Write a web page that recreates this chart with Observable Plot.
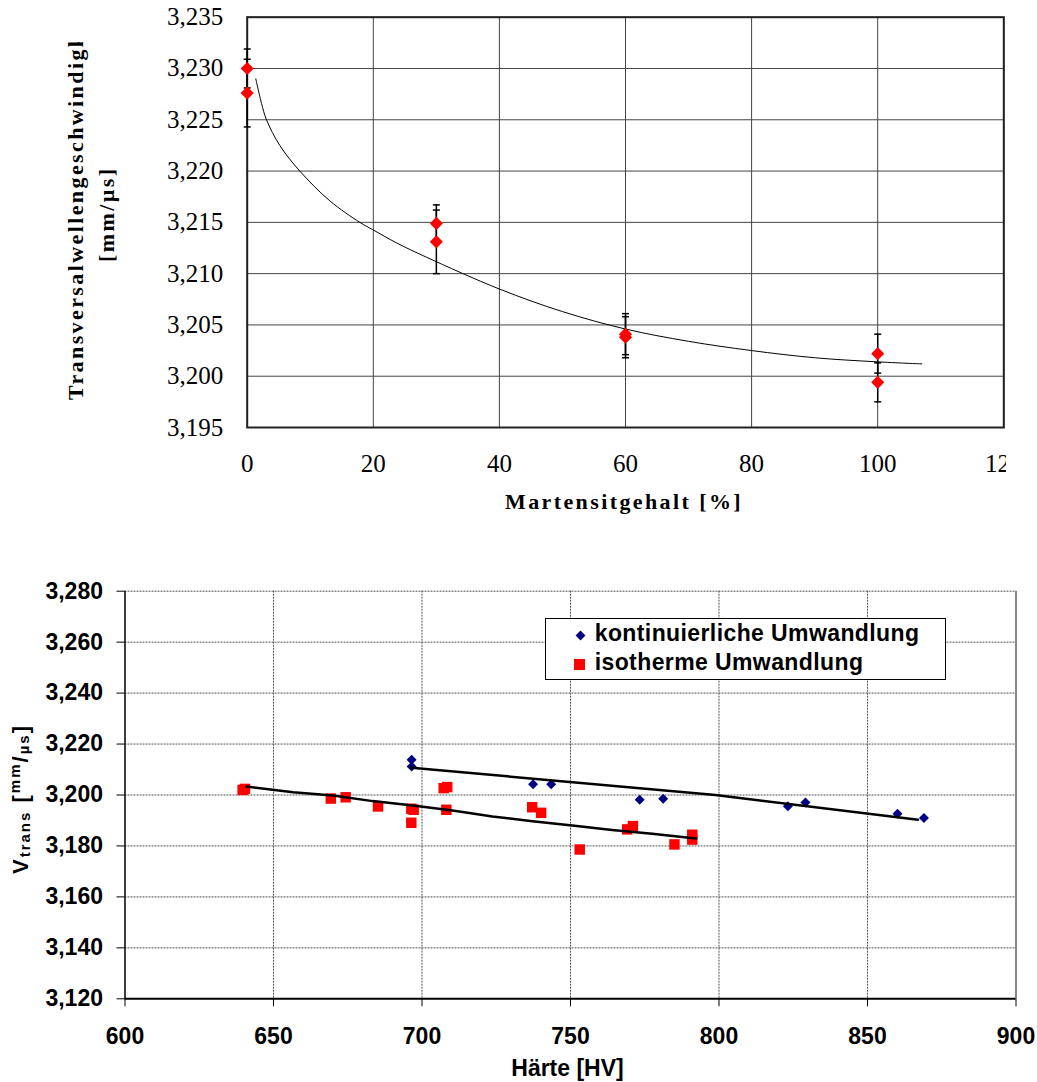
<!DOCTYPE html>
<html><head><meta charset="utf-8">
<script src="https://cdn.jsdelivr.net/npm/d3@7"></script>
<script src="https://cdn.jsdelivr.net/npm/@observablehq/plot@0.6"></script>
<style>
body{margin:0;background:#fff;}
#root{position:relative;width:1037px;height:1082px;overflow:hidden;background:#fff;}
.abs{position:absolute;white-space:nowrap;line-height:1;}
.serif{font-family:"Liberation Serif","Times New Roman",serif;font-weight:bold;font-size:22px;letter-spacing:2.4px;color:#000;}
.sans{font-family:"Liberation Sans",Arial,sans-serif;font-weight:bold;color:#000;}
.rot{transform-origin:0 0;transform:rotate(-90deg);}
</style></head>
<body><div id="root">
<div id="top" class="abs" style="left:0;top:0;width:1006px"></div>
<div id="bottom" class="abs" style="left:0;top:540px;width:1037px"></div>

<div class="abs serif" style="left:0;top:491px;width:1248px;text-align:center">Martensitgehalt [%]</div>
<div class="abs" style="left:0;top:42px;width:200px;height:400px;overflow:hidden">
  <div class="abs serif rot" style="left:64.6px;top:358px">Transversalwellengeschwindigkeit</div>
</div>
<div class="abs serif rot" style="left:96.2px;top:262px">[mm/µs]</div>

<div class="abs sans rot" style="left:9.7px;top:874px;font-size:22px;letter-spacing:2px">V<span style="font-size:15px;position:relative;top:2px">trans</span> [<span style="font-size:15px;position:relative;top:-8px">mm</span>/<span style="font-size:15px;position:relative;top:1px">µs</span>]</div>
<div class="abs sans" style="left:0;top:1056.5px;width:1135px;text-align:center;font-size:23px">Härte [HV]</div>

<div class="abs" style="left:545px;top:618px;width:401px;height:62px;border:1.5px solid #000;background:#fff;box-sizing:border-box"></div>
<div class="abs" style="left:576.5px;top:631.5px;width:7px;height:7px;background:#000080;transform:rotate(45deg)"></div>
<div class="abs" style="left:574px;top:658.5px;width:11px;height:11px;background:#ff0000"></div>
<div class="abs sans" style="left:594.7px;top:622.2px;font-size:23px;letter-spacing:0.4px">kontinuierliche Umwandlung</div>
<div class="abs sans" style="left:594.7px;top:650.5px;font-size:23px;letter-spacing:0.4px">isotherme Umwandlung</div>
</div>
<script>
// ---- Top chart data ----
const xTicksTop = [0, 20, 40, 60, 80, 100, 120];
const yTicksTop = [3.195, 3.200, 3.205, 3.210, 3.215, 3.220, 3.225, 3.230, 3.235];
const martensit = [0, 0, 30, 30, 60, 60, 100, 100];
const vTop = [3.2300, 3.2276, 3.2149, 3.2131, 3.2041, 3.2038, 3.2022, 3.1994];
const errTop = [0.0019, 0.0033, 0.0018, 0.0031, 0.0020, 0.0020, 0.0019, 0.0019];
const fitX = [1.36, 2.27, 3.06, 5.17, 8.34, 13.1, 17.86, 19.87, 23.68, 28.44, 40, 50, 60, 70, 80, 90, 100, 107];
const fitY = [3.2290, 3.2266, 3.2250, 3.2225, 3.2200, 3.2171, 3.2150, 3.2143, 3.2130, 3.2116, 3.2085, 3.2063, 3.2046, 3.2034, 3.2025, 3.2018, 3.2014, 3.2012];

// ---- Bottom chart data ----
const xTicksBottom = [600, 650, 700, 750, 800, 850, 900];
const yTicksBottom = [3.12, 3.14, 3.16, 3.18, 3.20, 3.22, 3.24, 3.26, 3.28];
const kontHV = [696.5, 696.5, 737.4, 743.5, 773.3, 781.2, 823.2, 829.1, 860.1, 869.0];
const kontV = [3.2138, 3.2112, 3.2042, 3.2042, 3.1981, 3.1985, 3.1956, 3.1971, 3.1926, 3.1910];
const isoHV = [639.6, 640.4, 669.3, 674.3, 685.2, 696.4, 697.2, 696.4, 707.3, 708.5, 708.2, 737.1, 740.1, 753.1, 769.1, 771.0, 785.0, 791.0, 791.0];
const isoV = [3.2020, 3.2024, 3.1986, 3.1991, 3.1955, 3.1946, 3.1942, 3.1891, 3.2027, 3.2031, 3.1942, 3.1952, 3.1930, 3.1786, 3.1865, 3.1878, 3.1806, 3.1844, 3.1825];
const kontTrendHV = [696.5, 798.8, 867.0];
const kontTrendV = [3.2107, 3.2000, 3.1903];
const isoTrendHV = [640.9, 656.6, 670.0, 683.4, 696.9, 710.3, 723.7, 737.2, 750.6, 764.0, 777.5, 792.3];
const isoTrendV = [3.2033, 3.2011, 3.1998, 3.1976, 3.1959, 3.1939, 3.1916, 3.1897, 3.1880, 3.1863, 3.1848, 3.1829];

const fmt3 = d => d.toFixed(3).replace(".", ",");
const capSym = {draw(ctx, size) { const r = Math.sqrt(size / Math.PI); ctx.moveTo(-r, 0); ctx.lineTo(r, 0); }};

const topPts = martensit.map((x, i) => ({x, y: vTop[i], lo: vTop[i] - errTop[i], hi: vTop[i] + errTop[i]}));
const fit = fitX.map((x, i) => ({x, y: fitY[i]}));

const topPlot = Plot.plot({
  width: 1006, height: 520,
  marginLeft: 246.7, marginRight: 2.7, marginTop: 16.7, marginBottom: 93,
  style: {fontFamily: "Liberation Serif, Times New Roman, serif", fontSize: "25px", color: "#000", background: "#fff", overflow: "hidden"},
  x: {domain: [0, 120], ticks: xTicksTop, tickSize: 0, tickPadding: 26.7, tickFormat: d => String(d), label: null},
  y: {domain: [3.195, 3.235], ticks: yTicksTop, tickSize: 0, tickPadding: 24, tickFormat: fmt3, label: null},
  marks: [
    Plot.ruleY(yTicksTop, {stroke: "#444", strokeWidth: 1}),
    Plot.ruleX(xTicksTop, {stroke: "#444", strokeWidth: 1}),
    Plot.frame({stroke: "#222", strokeWidth: 2}),
    Plot.line(fit, {x: "x", y: "y", stroke: "#000", strokeWidth: 1, curve: "catmull-rom"}),
    Plot.ruleX(topPts, {x: "x", y1: "lo", y2: "hi", stroke: "#000", strokeWidth: 1.5}),
    Plot.dot(topPts, {x: "x", y: "lo", symbol: capSym, r: 3.5, stroke: "#000", strokeWidth: 1.5, fill: "none"}),
    Plot.dot(topPts, {x: "x", y: "hi", symbol: capSym, r: 3.5, stroke: "#000", strokeWidth: 1.5, fill: "none"}),
    Plot.dot(topPts, {x: "x", y: "y", symbol: "diamond2", r: 5.9, fill: "#ff0000", stroke: "none"})
  ]
});
document.getElementById("top").appendChild(topPlot);

const kont = kontHV.map((x, i) => ({x, y: kontV[i]}));
const iso = isoHV.map((x, i) => ({x, y: isoV[i]}));
const kontTrend = kontTrendHV.map((x, i) => ({x, y: kontTrendV[i]}));
const isoTrend = isoTrendHV.map((x, i) => ({x, y: isoTrendV[i]}));

const bottomPlot = Plot.plot({
  width: 1037, height: 542,
  marginLeft: 124.5, marginRight: 21.5, marginTop: 50.7, marginBottom: 83.7,
  style: {fontFamily: "Liberation Sans, Arial, sans-serif", fontSize: "23px", fontWeight: "bold", color: "#000", background: "#fff"},
  x: {domain: [600, 900], ticks: xTicksBottom, tickSize: 8, tickPadding: 20.7, tickFormat: d => String(d), label: null},
  y: {domain: [3.12, 3.28], ticks: yTicksBottom, tickSize: 8, tickPadding: 14, tickFormat: fmt3, label: null},
  marks: [
    Plot.ruleY(yTicksBottom.slice(1), {stroke: "#555", strokeWidth: 1, strokeDasharray: "2,1"}),
    Plot.ruleX(xTicksBottom.slice(1, -1), {stroke: "#555", strokeWidth: 1, strokeDasharray: "2,1"}),
    Plot.ruleX(xTicksBottom.slice(-1), {stroke: "#888", strokeWidth: 2}),
    Plot.ruleX(xTicksBottom.slice(0, 1), {stroke: "#000", strokeWidth: 1.5}),
    Plot.ruleY(yTicksBottom.slice(0, 1), {stroke: "#000", strokeWidth: 2}),
    Plot.dot(iso, {x: "x", y: "y", symbol: "square", r: 5.9, fill: "#ff0000", stroke: "none"}),
    Plot.dot(kont, {x: "x", y: "y", symbol: "diamond2", r: 4.5, fill: "#000080", stroke: "none"}),
    Plot.line(isoTrend, {x: "x", y: "y", stroke: "#000", strokeWidth: 2.5}),
    Plot.line(kontTrend, {x: "x", y: "y", stroke: "#000", strokeWidth: 2.5})
  ]
});
document.getElementById("bottom").appendChild(bottomPlot);
</script>
</body></html>
